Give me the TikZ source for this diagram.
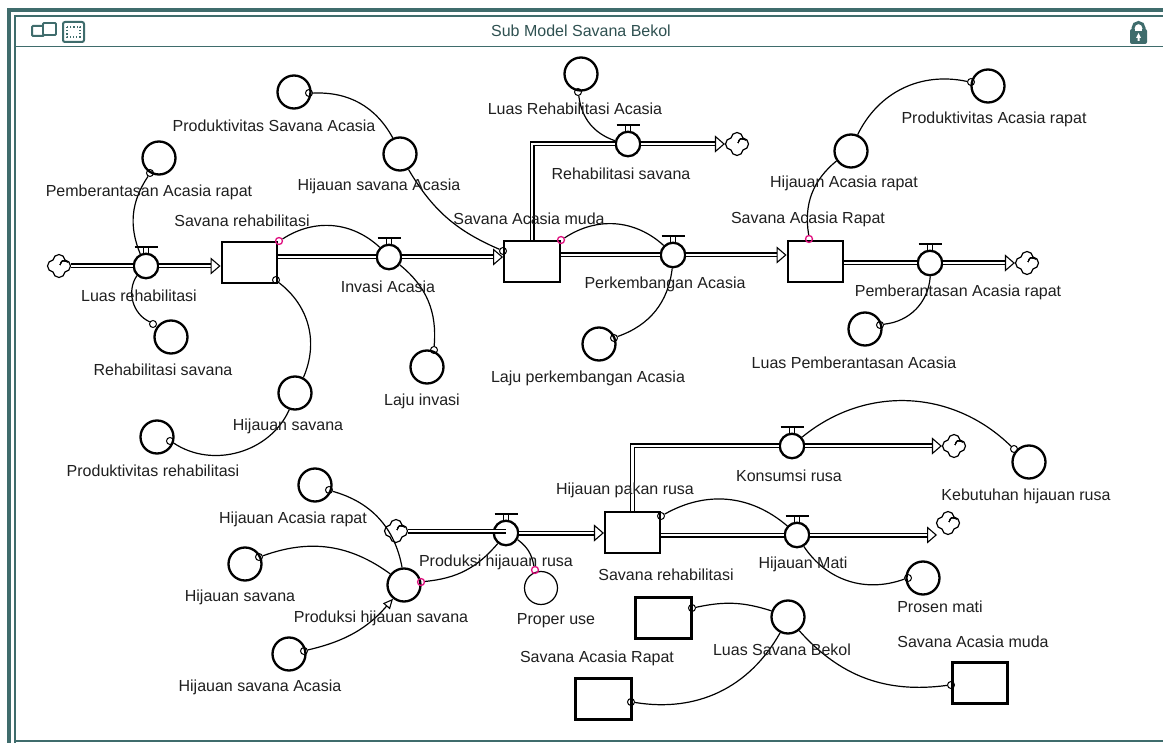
\documentclass[tikz,border=0pt]{standalone}
\usepackage{fontspec}
\setmainfont{Liberation Sans}
\usetikzlibrary{arrows.meta,shapes.symbols}
\definecolor{frameteal}{HTML}{3F6C6C}
\definecolor{dotred}{HTML}{E0107F}
\tikzset{
	lbl/.style={font=\fontsize{16}{18}\selectfont,text=black!88,inner sep=0pt},
	aux/.style={circle,draw,line width=2.3pt,fill=white,minimum size=33pt,inner sep=0pt},
	stock/.style={draw,line width=2.4pt,fill=white,minimum width=55.5pt,minimum height=41pt,inner sep=0pt},
	valve/.style={circle,draw,line width=2.3pt,fill=white,minimum size=24.5pt,inner sep=0pt},
	dot/.style={circle,draw,line width=1pt,minimum size=7pt,inner sep=0pt},
	reddot/.style={dot,draw=dotred,line width=1.3pt},
	link/.style={line width=1.2pt},
	pipe/.style={double,line width=1.4pt,double distance=2.2pt},
	pipehead/.style={pipe,-{Triangle[open,length=10pt,width=17pt,line width=1.1pt]}},
	sourcesink/.style={cloud,cloud puffs=4,cloud puff arc=170,aspect=1,draw,line width=1.2pt,fill=white,
		minimum width=23pt,minimum height=23pt,inner sep=0pt,shape border rotate=45,
		path picture={\foreach \a in {0,90,180,270}
			\draw[line width=1pt,shift={(path picture bounding box.center)},rotate=\a] (1,-1) .. controls (3,-6) .. (9,-4);}},
	teal/.style={draw=frameteal,line width=1.6pt},
}
\newcommand\valvenode[3]{%
	\node[valve] (#1) at (#2,#3) {};
	\draw[line width=2pt] ([shift={(-11.5,-5.5)}]#1.north) -- ([shift={(11.5,-5.5)}]#1.north);
	\draw[line width=.9pt] ([shift={(-2.2,-5.5)}]#1.north) -- ([shift={(-2.2,0)}]#1.north);
	\draw[line width=.9pt] ([shift={(2.2,-5.5)}]#1.north) -- ([shift={(2.2,0)}]#1.north);
}
\begin{document}
\begin{tikzpicture}[x=1pt,y=-1pt]
	\useasboundingbox[fill=white] (0,0) rectangle (1163,743);

	% Window frame
	\fill[frameteal] (7,8) rectangle (1163,12);
	\fill[frameteal] (7,8) rectangle (11,743);
	\draw[teal] (15,743) -- (15,16) -- (1163,16);
	\draw[teal] (15,741) -- (1163,741);
	\draw[teal,line width=1.2pt] (15,46.5) -- (1163,46.5);
	\node[font=\fontsize{16}{18}\selectfont,text=frameteal!75!black,inner sep=0pt] (title) at (581,31) {Sub Model Savana Bekol};

	% Window icons
	\draw[teal,rounded corners=1pt,line width=2pt] (32,26) rectangle (44,36);
	\draw[teal,fill=white,rounded corners=1pt,line width=1.8pt] (43,23) rectangle (56,35);
	\draw[teal,rounded corners=2pt,line width=2pt] (63,22) rectangle (84,42);
	\draw[frameteal,dotted,line width=1.2pt] (67,27) rectangle (80,37);
	\fill[frameteal,rounded corners=2pt] (1130,29) rectangle (1147,44);
	\draw[frameteal,line width=3pt] (1133,30) -- (1133,28) arc[start angle=180,end angle=360,radius=5.5] -- (1144,30);
	\fill[white] (1135,31) rectangle (1142,28.5);
	\fill[white] (1138.5,33) -- (1141,38) -- (1139.5,38) -- (1139.5,41) -- (1137.5,41) -- (1137.5,38) -- (1136,38) -- cycle;

	% Upper chain
	\node[sourcesink] (src1) at (59,266) {};
	\valvenode{lrehab}{146}{266}
	\node[stock] (savreh) at (249.5,262.5) {};
	\valvenode{invasi}{389}{257}
	\node[stock] (savmuda) at (532,261.5) {};
	\valvenode{kembang}{673}{255}
	\node[stock] (savrapat) at (815.5,261.5) {};
	\valvenode{berantas}{930}{263}
	\node[sourcesink] (snk1) at (1027,263) {};
	\valvenode{rehsav}{628}{144}
	\node[sourcesink] (snk2) at (737,144) {};
	\draw[pipe] (src1) -- (lrehab);
	\draw[pipehead] (lrehab) -- (savreh.west |- lrehab);
	\draw[pipe] (savreh.east |- invasi) -- (invasi);
	\draw[pipehead] (invasi) -- (savmuda.west |- invasi);
	\draw[pipe] (savmuda.north) |- (rehsav);
	\draw[pipe] (savmuda.east |- kembang) -- (kembang);
	\draw[pipehead] (kembang) -- (savrapat.west |- kembang);
	\draw[pipe] (savrapat.east |- berantas) -- (berantas);
	\draw[pipehead] (berantas) -- (snk1);
	\draw[pipehead] (rehsav) -- (snk2);

	% Lower chain
	\node[sourcesink] (src2) at (396,531) {};
	\valvenode{prodrusa}{506}{533}
	\node[stock,line width=1.6pt] (pakan) at (632.5,532.5) {};
	\valvenode{konsumsi}{792}{446}
	\node[sourcesink] (snk3) at (954,446) {};
	\valvenode{mati}{797}{535}
	\node[sourcesink] (snk4) at (948,523) {};
	\coordinate (matiend) at (937,535);
	\draw[pipe] (src2) -- (src2 -| prodrusa);
	\draw[pipehead] (prodrusa) -- (pakan.west |- prodrusa);
	\draw[pipe] (pakan.north) |- (konsumsi);
	\draw[pipehead] (konsumsi) -- (snk3);
	\draw[pipe] (pakan.east |- mati) -- (mati);
	\draw[pipehead] (mati) -- (matiend);

	% Converters, upper part
	\node[aux] (prodsavac) at (294,92) {};
	\node[aux] (hijsavac) at (400,154) {};
	\node[aux] (berantasluas) at (159,158) {};
	\node[aux] (luasrehac) at (581,74) {};
	\node[aux] (hijacrap) at (851,151) {};
	\node[aux] (prodacrap) at (988,86) {};
	\node[aux] (rehabsav) at (171,337) {};
	\node[aux] (lajuinv) at (427,367) {};
	\node[aux] (lajukem) at (599,344) {};
	\node[aux] (luasber) at (865,329) {};
	\node[aux] (hijsav) at (295,393) {};
	\node[aux] (prodreh) at (157,437) {};

	% Converters, lower part
	\node[aux] (kebutuhan) at (1029,462) {};
	\node[aux] (prosen) at (923,578) {};
	\node[aux] (hijacrap2) at (315,485) {};
	\node[aux] (hijsav2) at (245,564) {};
	\node[aux] (hijsavac2) at (289,654) {};
	\node[aux] (prodsav) at (404,585) {};
	\node[aux,line width=1.2pt] (properuse) at (541,588) {};
	\node[aux] (luasbekol) at (788,617) {};
	\node[stock,line width=3pt] (boxreh) at (663.5,617.5) {};
	\node[stock,line width=3pt] (boxrapat) at (603.5,699) {};
	\node[stock,line width=3pt] (boxmuda) at (980,683) {};

	% Connector ends
	\node[dot] (d1) at (309,93) {};
	\node[dot] (d2) at (150,173) {};
	\node[dot] (d3) at (578,92) {};
	\node[dot] (d4) at (971,82) {};
	\node[dot] (d5) at (153,324) {};
	\node[dot] (d6) at (434,350) {};
	\node[dot] (d7) at (614,338) {};
	\node[dot] (d8) at (880,325) {};
	\node[dot] (d9) at (276,280) {};
	\node[dot] (d10) at (170,441) {};
	\node[dot] (d11) at (503,251) {};
	\node[dot] (d12) at (1014,449) {};
	\node[dot] (d13) at (661,516) {};
	\node[dot] (d14) at (908,578) {};
	\node[dot] (d15) at (329,490) {};
	\node[dot] (d16) at (259,557) {};
	\node[dot] (d17) at (304,651) {};
	\node[dot] (d18) at (692,608) {};
	\node[dot] (d19) at (631,702) {};
	\node[dot] (d20) at (951,685) {};
	\node[reddot] (r1) at (279,241) {};
	\node[reddot] (r2) at (561,240) {};
	\node[reddot] (r3) at (809,239) {};
	\node[reddot] (r4) at (421,582) {};
	\node[reddot] (r5) at (535,570) {};

	% Connectors
	\draw[link] (d1) to[bend left=32] (hijsavac);
	\draw[link] (hijsavac) to[bend right=18] (d11);
	\draw[link] (d2) to[bend right=28] (lrehab);
	\draw[link] (lrehab) to[bend right=50] (d5);
	\draw[link] (r1) to[bend left=38] (invasi);
	\draw[link] (invasi) to[bend left=28] (d6);
	\draw[link] (d9) to[bend left=38] (hijsav);
	\draw[link] (hijsav) to[bend left=50] (d10);
	\draw[link] (d3) to[bend right=32] (rehsav);
	\draw[link] (r2) to[bend left=38] (kembang);
	\draw[link] (kembang) to[bend left=32] (d7);
	\draw[link] (r3) to[bend left=30] (hijacrap);
	\draw[link] (hijacrap) to[bend left=38] (d4);
	\draw[link] (berantas) to[bend left=40] (d8);
	\draw[link] (konsumsi) to[bend left=42] (d12);
	\draw[link] (d13) to[bend left=35] (mati);
	\draw[link] (mati) to[bend right=38] (d14);
	\draw[link] (r4) to[bend right=22] (prodrusa);
	\draw[link] (prodrusa) to[bend left=22] (r5);
	\draw[link] (d15) to[bend left=32] (prodsav);
	\draw[link] (d16) to[bend left=28] (prodsav);
	\draw[link,-{Triangle[open,length=10pt,width=9pt,line width=1.1pt]}] (d17) to[bend right=18] (prodsav);
	\draw[link] (d18) to[bend left=15] (luasbekol);
	\draw[link] (d19) to[bend right=35] (luasbekol);
	\draw[link] (d20) to[bend left=28] (luasbekol);

	% Labels
	\node[lbl] (t1) at (274,126) {Produktivitas Savana Acasia};
	\node[lbl] (t2) at (149,192) {Pemberantasan Acasia rapat};
	\node[lbl] (t3) at (242,221) {Savana rehabilitasi};
	\node[lbl] (t4) at (379,186) {Hijauan savana Acasia};
	\node[lbl] (t5) at (529,219) {Savana Acasia muda};
	\node[lbl] (t6) at (575,109) {Luas Rehabilitasi Acasia};
	\node[lbl] (t7) at (621,174) {Rehabilitasi savana};
	\node[lbl] (t8) at (844,183) {Hijauan Acasia rapat};
	\node[lbl] (t9) at (808,219) {Savana Acasia Rapat};
	\node[lbl] (t10) at (994,119) {Produktivitas Acasia rapat};
	\node[lbl] (t11) at (139,296) {Luas rehabilitasi};
	\node[lbl] (t12) at (388,287) {Invasi Acasia};
	\node[lbl] (t13) at (665,284) {Perkembangan Acasia};
	\node[lbl] (t14) at (958,292) {Pemberantasan Acasia rapat};
	\node[lbl] (t15) at (163,370) {Rehabilitasi savana};
	\node[lbl] (t16) at (422,401) {Laju invasi};
	\node[lbl] (t17) at (588,378) {Laju perkembangan Acasia};
	\node[lbl] (t18) at (854,363) {Luas Pemberantasan Acasia};
	\node[lbl] (t19) at (288,426) {Hijauan savana};
	\node[lbl] (t20) at (153,471) {Produktivitas rehabilitasi};
	\node[lbl] (t21) at (789,476) {Konsumsi rusa};
	\node[lbl] (t22) at (1026,496) {Kebutuhan hijauan rusa};
	\node[lbl] (t23) at (625,490) {Hijauan pakan rusa};
	\node[lbl] (t24) at (293,519) {Hijauan Acasia rapat};
	\node[lbl] (t25) at (496,562) {Produksi hijauan rusa};
	\node[lbl] (t26) at (666,575) {Savana rehabilitasi};
	\node[lbl] (t27) at (803,564) {Hijauan Mati};
	\node[lbl] (t28) at (940,607) {Prosen mati};
	\node[lbl] (t29) at (240,597) {Hijauan savana};
	\node[lbl] (t30) at (381,618) {Produksi hijauan savana};
	\node[lbl] (t31) at (556,621) {Proper use};
	\node[lbl] (t32) at (597,658) {Savana Acasia Rapat};
	\node[lbl] (t33) at (782,650) {Luas Savana Bekol};
	\node[lbl] (t34) at (973,642) {Savana Acasia muda};
	\node[lbl] (t35) at (260,687) {Hijauan savana Acasia};
\end{tikzpicture}
\end{document}
